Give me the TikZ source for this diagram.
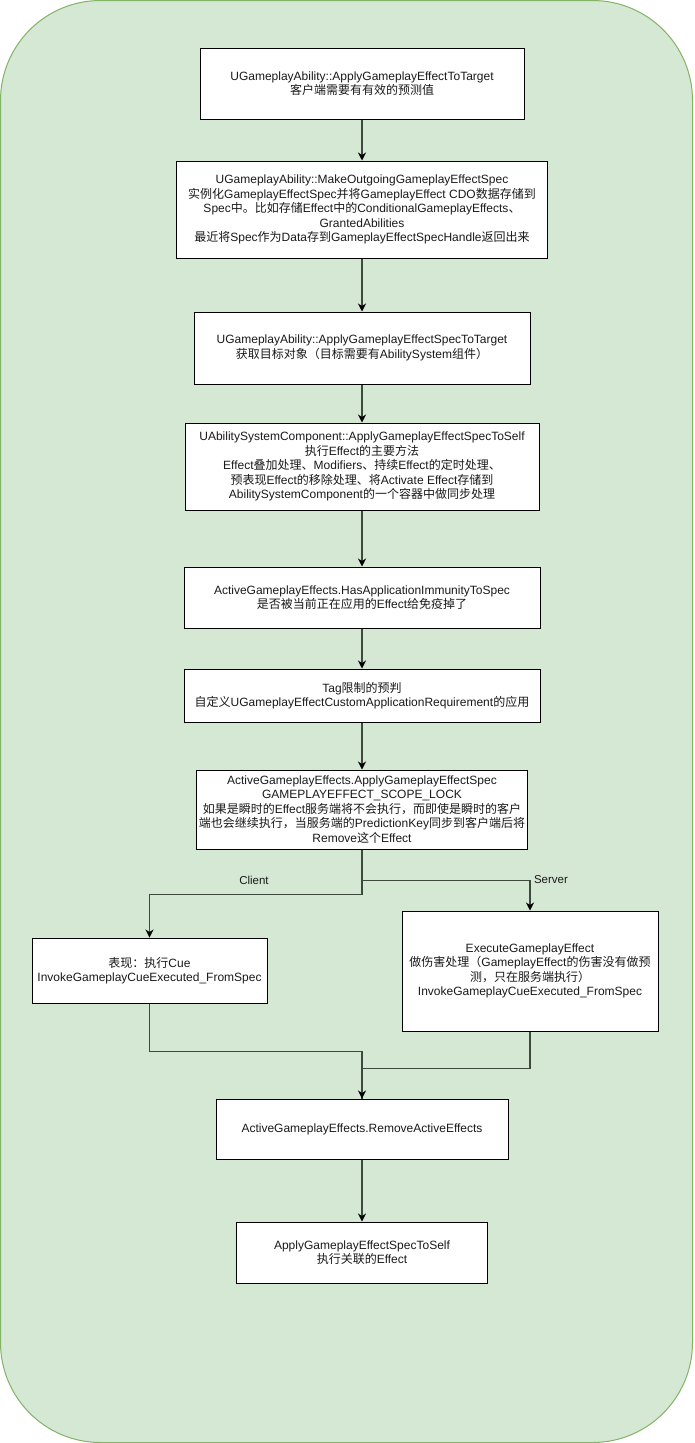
\documentclass[tikz,border=0pt]{standalone}
\usepackage{fontspec}
\setmainfont{Liberation Sans}
\newfontfamily\cjk{Noto Sans CJK SC}
\newcommand\zh[1]{{\cjk #1}}
\usetikzlibrary{arrows.meta}
\definecolor{bgfill}{HTML}{D5E8D4}
\definecolor{bgline}{HTML}{82B366}
\definecolor{txt}{HTML}{1A1A1A}
\definecolor{edge}{HTML}{3F4A3F}
\begin{document}
\begin{tikzpicture}[x=1pt,y=-1pt,
  box/.style={draw=black,line width=1pt,fill=white,align=center,text=txt,
    font=\fontsize{12}{14.4}\selectfont,inner sep=2pt},
  arr/.style={draw=edge,line width=1.2pt,-{Stealth[length=8pt,width=8pt,inset=2.5pt,color=black]}},
  ln/.style={draw=edge,line width=1.2pt},
  elabel/.style={text=txt,font=\fontsize{11.5}{13}\selectfont}]
\useasboundingbox (0,0) rectangle (694,1443);
\draw[fill=bgfill,draw=bgline,line width=1pt,rounded corners=100pt] (0.5,0.5) rectangle (692.5,1442.5);

\node[box,minimum width=324pt,minimum height=71pt] (b1) at (362,83.5)
  {UGameplayAbility::ApplyGameplayEffectToTarget\\
   \zh{客户端需要有有效的预测值}};
\node[box,minimum width=371pt,minimum height=97pt] (b2) at (362,209.5)
  {UGameplayAbility::MakeOutgoingGameplayEffectSpec\\
   \zh{实例化}GameplayEffectSpec\zh{并将}GameplayEffect CDO\zh{数据存储到}\\
   Spec\zh{中。比如存储}Effect\zh{中的}ConditionalGameplayEffects\zh{、}\\
   GrantedAbilities\\
   \zh{最近将}Spec\zh{作为}Data\zh{存到}GameplayEffectSpecHandle\zh{返回出来}};
\node[box,minimum width=336pt,minimum height=72pt] (b3) at (362,348)
  {UGameplayAbility::ApplyGameplayEffectSpecToTarget\\
   \zh{获取目标对象（目标需要有}AbilitySystem\zh{组件）}};
\node[box,minimum width=354pt,minimum height=87pt] (b4) at (362,466.5)
  {UAbilitySystemComponent::ApplyGameplayEffectSpecToSelf\\
   \zh{执行}Effect\zh{的主要方法}\\
   Effect\zh{叠加处理、}Modifiers\zh{、持续}Effect\zh{的定时处理、}\\
   \zh{预表现}Effect\zh{的移除处理、将}Activate Effect\zh{存储到}\\
   AbilitySystemComponent\zh{的一个容器中做同步处理}};
\node[box,minimum width=356pt,minimum height=61pt] (b5) at (362,597.5)
  {ActiveGameplayEffects.HasApplicationImmunityToSpec\\
   \zh{是否被当前正在应用的}Effect\zh{给免疫掉了}};
\node[box,minimum width=356pt,minimum height=53pt] (b6) at (362,695.5)
  {Tag\zh{限制的预判}\\
   \zh{自定义}UGameplayEffectCustomApplicationRequirement\zh{的应用}};
\node[box,minimum width=330pt,minimum height=79pt] (b7) at (362,809.5)
  {ActiveGameplayEffects.ApplyGameplayEffectSpec\\
   GAMEPLAYEFFECT\_SCOPE\_LOCK\\
   \zh{如果是瞬时的}Effect\zh{服务端将不会执行，而即使是瞬时的客户}\\
   \zh{端也会继续执行，当服务端的}PredictionKey\zh{同步到客户端后将}\\
   Remove\zh{这个}Effect};
\node[box,minimum width=235pt,minimum height=65pt] (bc) at (149.5,970.5)
  {\zh{表现：执行}Cue\\
   InvokeGameplayCueExecuted\_FromSpec};
\node[box,minimum width=256pt,minimum height=120pt] (bs) at (530,971)
  {ExecuteGameplayEffect\\
   \zh{做伤害处理（}GameplayEffect\zh{的伤害没有做预}\\
   \zh{测，只在服务端执行）}\\
   InvokeGameplayCueExecuted\_FromSpec};
\node[box,minimum width=292pt,minimum height=60pt] (b8) at (362,1129)
  {ActiveGameplayEffects.RemoveActiveEffects};
\node[box,minimum width=251pt,minimum height=61pt] (b9) at (362,1252.5)
  {ApplyGameplayEffectSpecToSelf\\
   \zh{执行关联的}Effect};

\draw[arr] (b1.south) -- (b2.north);
\draw[arr] (b2.south) -- (b3.north);
\draw[arr] (b3.south) -- (b4.north);
\draw[arr] (b4.south) -- (b5.north);
\draw[arr] (b5.south) -- (b6.north);
\draw[arr] (b6.south) -- (b7.north);
\draw[arr] (b7.south) -- ++(0,45) -| (bc.north);
\draw[arr] (b7.south) -- ++(0,31) -| (bs.north);
\node[elabel] (lc) at (254,880) {Client};
\node[elabel] (ls) at (551,880) {Server};
\draw[ln] (bs.south) -- ++(0,37) -| (b8.north);
\draw[arr] (bc.south) -- ++(0,48) -| (b8.north);
\draw[arr] (b8.south) -- (b9.north);
\end{tikzpicture}
\end{document}
